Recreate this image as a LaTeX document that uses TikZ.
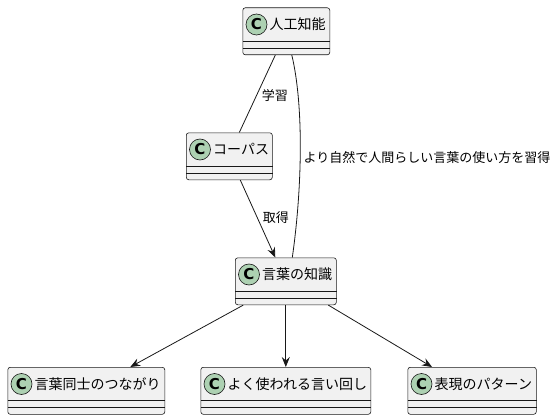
\documentclass[tikz,border=0pt]{standalone}
\usepackage{fontspec}
\setmainfont{Noto Sans CJK JP}
\newfontfamily\cfont{DejaVu Sans}
\usetikzlibrary{arrows.meta}

\definecolor{linec}{HTML}{181818}
\definecolor{boxfill}{HTML}{F1F1F1}
\definecolor{circfill}{HTML}{ADD1B2}

% one class box: name, left, top, width, title
\newcommand{\umlclass}[5]{%
  \node[cls, minimum width=#4pt] (#1) at (#2,#3) {};
  \draw[sep] ([yshift=-33.5pt]#1.north west) -- ([yshift=-33.5pt]#1.north east);
  \draw[sep] ([yshift=-40.5pt]#1.north west) -- ([yshift=-40.5pt]#1.north east);
  \node[circ] (#1-c) at ([xshift=14pt,yshift=-17pt]#1.north west) {C};
  \node[title] (#1-t) at ([xshift=27pt,yshift=-17pt]#1.north west) {#5};
}

\begin{document}
\begin{tikzpicture}[x=1pt, y=-1pt,
    cls/.style = {draw=linec, fill=boxfill, rounded corners=2.5pt, anchor=north west,
                  minimum height=47pt, inner sep=0pt, line width=0.6pt},
    sep/.style = {draw=linec, line width=0.6pt},
    circ/.style = {circle, draw=linec, fill=circfill, minimum size=21pt, inner sep=0pt,
                   line width=0.6pt, font=\cfont\bfseries\fontsize{15}{15}\selectfont},
    title/.style = {anchor=west, inner sep=0pt, font=\fontsize{14}{16}\selectfont},
    lbl/.style = {anchor=west, inner sep=0pt, xshift=5pt, font=\fontsize{13}{15}\selectfont},
    edge/.style = {draw=linec, line width=0.8pt},
    arr/.style = {edge, -{Stealth[length=10pt, width=8pt, inset=3.5pt]}}]
    \useasboundingbox (0,0) rectangle (557,420);

    \umlclass{ai}{242.5}{7.5}{87}{人工知能}
    \umlclass{corpus}{186}{132.5}{86}{コーパス}
    \umlclass{know}{235}{257.5}{101}{言葉の知識}
    \umlclass{link}{7.5}{367}{157}{言葉同士のつながり}
    \umlclass{phrase}{200.5}{367}{170}{よく使われる言い回し}
    \umlclass{pattern}{407.5}{367}{128.5}{表現のパターン}

    \draw[edge] ([xshift=-11pt]ai.south) -- node[lbl, pos=0.52] (l1) {学習} ([xshift=10pt]corpus.north);
    \draw[arr] ([xshift=11pt]corpus.south) -- node[lbl, pos=0.49] (l2) {取得} ([xshift=-10.5pt]know.north);
    \draw[edge] ([xshift=5.5pt]ai.south) .. controls +(12pt,-50pt) and +(10pt,70pt) ..
        node[lbl, pos=0.54, xshift=-2pt] (l3) {より自然で人間らしい言葉の使い方を習得} ([xshift=6.5pt]know.north);

    \draw[arr] ([xshift=-42.5pt]know.south) -- ([xshift=44pt]link.north);
    \draw[arr] (know.south) -- (phrase.north);
    \draw[arr] ([xshift=42.5pt]know.south) -- ([xshift=-40pt]pattern.north);
\end{tikzpicture}
\end{document}
